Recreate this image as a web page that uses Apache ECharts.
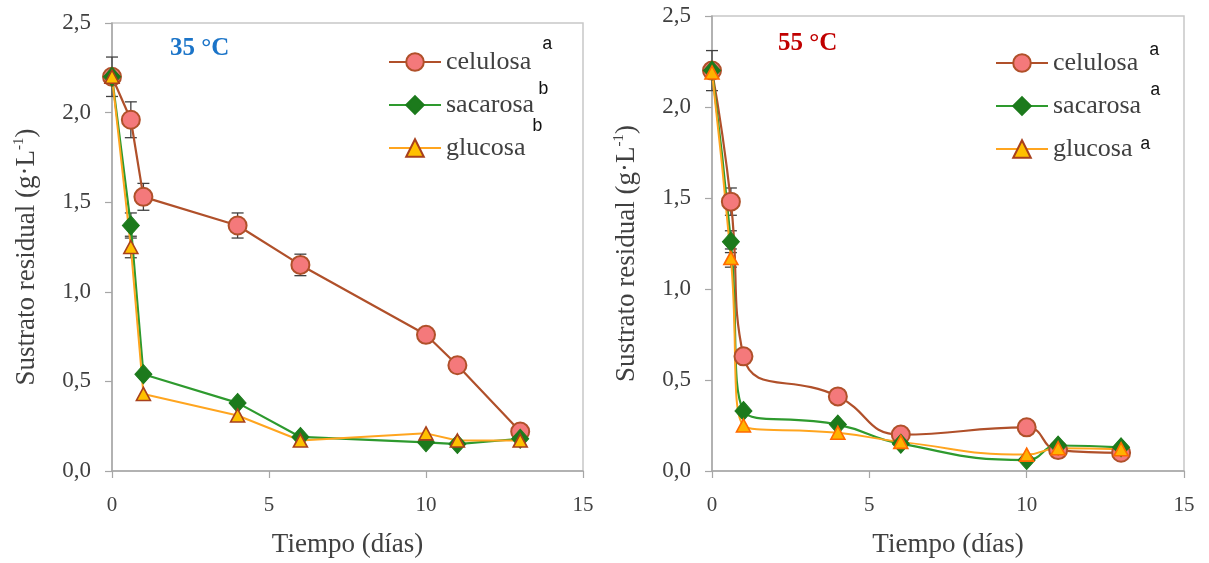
<!DOCTYPE html>
<html>
<head>
<meta charset="utf-8">
<script src="https://cdn.jsdelivr.net/npm/echarts@6/dist/echarts.min.js"></script>
<style>html,body{margin:0;padding:0;background:#fff}#c{width:1209px;height:563px}</style>
</head>
<body>
<div id="c"></div>
<script>
// ---- data ----
const days = [0, 0.6, 1, 4, 6, 10, 11, 13];
const seriesNames = ['celulosa', 'sacarosa', 'glucosa'];
const panelTitles = ['35 °C', '55 °C'];
const sup35 = ['a', 'b', 'b'];
const sup55 = ['a', 'a', 'a'];
const xTicks = [0, 5, 10, 15];
const yTicks = [0, 0.5, 1, 1.5, 2, 2.5];

const cel35 = [2.2, 1.96, 1.53, 1.37, 1.15, 0.76, 0.59, 0.22];
const sac35 = [2.2, 1.37, 0.54, 0.38, 0.19, 0.16, 0.15, 0.18];
const glu35 = [2.2, 1.25, 0.43, 0.31, 0.17, 0.21, 0.17, 0.17];
const celErr35 = [0.11, 0.10, 0.075, 0.07, 0.06, 0, 0, 0];
const sacErr35 = [0, 0.07, 0, 0, 0, 0, 0, 0];
const gluErr35 = [0, 0.06, 0, 0, 0, 0, 0, 0];

const cel55 = [2.2, 1.48, 0.63, 0.41, 0.20, 0.24, 0.115, 0.10];
const sac55 = [2.2, 1.26, 0.33, 0.255, 0.15, 0.06, 0.14, 0.13];
const glu55 = [2.19, 1.17, 0.25, 0.21, 0.16, 0.09, 0.125, 0.12];
const celErr55 = [0.11, 0.075, 0, 0, 0, 0, 0, 0];
const sacErr55 = [0, 0.06, 0, 0, 0, 0, 0, 0];
const gluErr55 = [0, 0.05, 0, 0, 0, 0, 0, 0];

// ---- build ----
const serif = '"Liberation Serif", "Times New Roman", serif';
const pair = (ys) => days.map((d, i) => [d, ys[i]]);
const errData = (ys, es) => days.map((d, i) => [d, ys[i], es[i]]).filter(r => r[2] > 0);

const grids = [
  { left: 112, top: 23, width: 471, height: 450 },
  { left: 712, top: 16, width: 472, height: 457 }
];

function xAxisFor(i) {
  return {
    gridIndex: i, type: 'value', min: xTicks[0], max: xTicks[xTicks.length - 1], interval: 5,
    name: 'Tiempo (días)', nameLocation: 'middle', nameGap: 60,
    nameTextStyle: { fontFamily: serif, fontSize: 27, color: '#404040' },
    axisLine: { show: true, lineStyle: { color: '#A6A6A6', width: 1.5 } },
    axisTick: { show: true, length: 7, lineStyle: { color: '#A6A6A6', width: 1.2 } },
    axisLabel: { fontFamily: serif, fontSize: 21, color: '#404040', margin: 24 },
    splitLine: { show: false }
  };
}
function yAxisFor(i) {
  return {
    gridIndex: i, type: 'value', min: yTicks[0], max: yTicks[yTicks.length - 1], interval: 0.5,
    name: 'Sustrato residual (g·L{sup|-1})', nameLocation: 'middle', nameGap: 70,
    nameTextStyle: { fontFamily: serif, fontSize: 27, color: '#404040', padding: [0, 20, 0, 0], lineHeight: 30,
      rich: { sup: { fontFamily: serif, fontSize: 15, color: '#404040', verticalAlign: 'top', lineHeight: 30, padding: [0, 0, 12, 0] } } },
    axisLine: { show: true, lineStyle: { color: '#A6A6A6', width: 1.5 } },
    axisTick: { show: true, length: 7, lineStyle: { color: '#A6A6A6', width: 1.2 } },
    axisLabel: { fontFamily: serif, fontSize: 23, color: '#404040', margin: 21,
      formatter: v => v.toFixed(1).replace('.', ',') },
    splitLine: { show: false }
  };
}

function errSeries(i, data) {
  return {
    type: 'custom', xAxisIndex: i, yAxisIndex: i, z: 1, silent: true,
    data: data,
    renderItem: (params, api) => {
      const x = api.value(0), y = api.value(1), e = api.value(2);
      const top = api.coord([x, y + e]);
      const bot = api.coord([x, y - e]);
      const w = 6;
      const st = { stroke: '#404040', lineWidth: 1.3 };
      return { type: 'group', children: [
        { type: 'line', shape: { x1: top[0], y1: top[1], x2: bot[0], y2: bot[1] }, style: st },
        { type: 'line', shape: { x1: top[0] - w, y1: top[1], x2: top[0] + w, y2: top[1] }, style: st },
        { type: 'line', shape: { x1: bot[0] - w, y1: bot[1], x2: bot[0] + w, y2: bot[1] }, style: st }
      ]};
    }
  };
}

function lineSeries(i, name, ys, smooth, kind) {
  const base = { type: 'line', name: name, xAxisIndex: i, yAxisIndex: i, data: pair(ys), smooth: smooth ? 0.5 : false, z: 3 };
  if (kind === 0) {
    Object.assign(base, {
      symbol: 'circle', symbolSize: 18,
      lineStyle: { color: '#B0502A', width: 2.2 },
      itemStyle: { color: '#F4797B', borderColor: '#B0502A', borderWidth: 2 }
    });
  } else if (kind === 1) {
    Object.assign(base, {
      symbol: 'diamond', symbolSize: [17, 19],
      lineStyle: { color: '#2E9A2E', width: 2.2 },
      itemStyle: { color: '#1C7A1C', borderColor: '#1C7A1C', borderWidth: 1 }
    });
  } else {
    Object.assign(base, {
      symbol: 'triangle', symbolSize: [14, 13],
      lineStyle: { color: '#FFA51F', width: 2 },
      itemStyle: i === 0
        ? { color: '#FFC000', borderColor: '#A8401C', borderWidth: 1.6 }
        : { color: '#FFB300', borderColor: '#FF6A00', borderWidth: 1.6 }
    });
  }
  return base;
}

const series = [
  errSeries(0, errData(cel35, celErr35)),
  errSeries(0, errData(sac35, sacErr35)),
  errSeries(0, errData(glu35, gluErr35)),
  errSeries(1, errData(cel55, celErr55)),
  errSeries(1, errData(sac55, sacErr55)),
  errSeries(1, errData(glu55, gluErr55)),
  lineSeries(0, seriesNames[0], cel35, false, 0),
  lineSeries(0, seriesNames[1], sac35, false, 1),
  lineSeries(0, seriesNames[2], glu35, false, 2),
  lineSeries(1, seriesNames[0], cel55, true, 0),
  lineSeries(1, seriesNames[1], sac55, true, 1),
  lineSeries(1, seriesNames[2], glu55, true, 2)
];

function legendFor(left, top) {
  return {
    data: seriesNames, orient: 'vertical', left: left, top: top, padding: 0,
    itemWidth: 52, itemHeight: 22, itemGap: 17, selectedMode: false,
    textStyle: { fontFamily: serif, fontSize: 26, color: '#404040', lineHeight: 26 }
  };
}

const supFont = '18px "Liberation Mono", "DejaVu Sans Mono", monospace';
const supPos35 = [[542, 44], [538, 89], [532, 126]];
const supPos55 = [[1149, 50], [1150, 90], [1140, 144]];
const graphics = [];
const addSup = (s, p) => graphics.push({ type: 'text', x: p[0], y: p[1], style: { text: s, font: supFont, fill: '#111', textVerticalAlign: 'middle' } });
sup35.forEach((s, k) => addSup(s, supPos35[k]));
sup55.forEach((s, k) => addSup(s, supPos55[k]));

const option = {
  backgroundColor: '#fff',
  animation: false,
  title: [
    { text: panelTitles[0], left: 170, top: 36, padding: 0, textStyle: { fontFamily: serif, fontSize: 25, fontWeight: 'bold', color: '#1B74C8' } },
    { text: panelTitles[1], left: 778, top: 31, padding: 0, textStyle: { fontFamily: serif, fontSize: 25, fontWeight: 'bold', color: '#C00000' } }
  ],
  grid: grids.map(g => Object.assign({ show: true, borderColor: '#C8C8C8', borderWidth: 1.5, backgroundColor: 'transparent' }, g)),
  xAxis: [xAxisFor(0), xAxisFor(1)],
  yAxis: [yAxisFor(0), yAxisFor(1)],
  legend: [legendFor(388, 49), legendFor(995, 50)],
  graphic: graphics,
  series: series
};

const chart = echarts.init(document.getElementById('c'), null, { renderer: 'canvas' });
chart.setOption(option);
</script>
</body>
</html>
